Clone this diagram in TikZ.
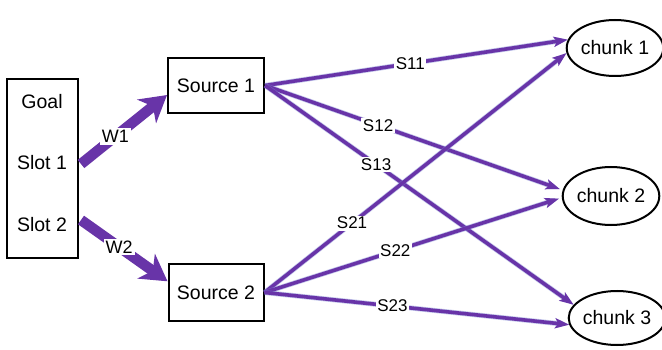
\documentclass[tikz,border=0pt]{standalone}
\usepackage{fontspec}
\setmainfont{Liberation Sans}
\usetikzlibrary{arrows.meta,calc,shapes.geometric}
\definecolor{linkpurple}{RGB}{104,52,168}
\definecolor{linkhalo}{RGB}{120,130,210}
\tikzset{
  boxnode/.style={draw=black,line width=2pt,inner sep=0pt,fill=white},
  chunknode/.style={draw=black,line width=2pt,ellipse,inner sep=0pt,minimum width=92pt,minimum height=56pt,font=\fontsize{19.5}{22}\selectfont},
  plain/.style={inner sep=0pt,font=\fontsize{19.5}{22}\selectfont},
  weightlink/.style={draw=linkpurple,line width=10.5pt,-{Stealth[length=26pt,width=30pt,inset=8pt]}},
  simlink/.style={draw=linkpurple,line width=3.6pt,-{Stealth[length=14pt,width=10pt,inset=3pt]},
    preaction={draw=linkhalo,line width=5pt,-{Stealth[length=14pt,width=10pt,inset=3pt]},opacity=0.45}},
  linklabel/.style={fill=white,inner sep=1.5pt,font=\fontsize{17}{19}\selectfont,text=black},
  weightlabel/.style={fill=white,inner sep=2pt,font=\fontsize{18}{20}\selectfont,text=black}
}
\begin{document}
\begin{tikzpicture}[x=1pt,y=-1pt]
\clip (0,0) rectangle (662,350);
\fill[white] (0,0) rectangle (662,350);

% goal buffer with its two slots
\node[boxnode,minimum width=71pt,minimum height=179pt] (goalbox) at (42.5,168.5) {};
\node[plain] (goal) at (42,102) {Goal};
\node[plain] (slot1) at (42,163) {Slot 1};
\node[plain] (slot2) at (42,225) {Slot 2};

% sources
\node[boxnode,minimum width=96pt,minimum height=55pt,font=\fontsize{19.5}{22}\selectfont] (s1) at (216,85.5) {Source 1};
\node[boxnode,minimum width=95pt,minimum height=57pt,font=\fontsize{19.5}{22}\selectfont] (s2) at (216,292.5) {Source 2};

% chunks
\node[chunknode] (c1) at (615,48) {chunk 1};
\node[chunknode,minimum height=58pt] (c2) at (611,196) {chunk 2};
\node[chunknode,minimum width=94pt,minimum height=54pt] (c3) at (617,318) {chunk 3};

% weighted links from the goal slots
\draw[weightlink] ($(goalbox.east |- slot1)+(2,1)$) -- (s1.191)
  node[weightlabel,pos=0.4] {W1};
\draw[weightlink] ($(goalbox.east |- slot2)+(2,-5)$) -- (s2.167)
  node[weightlabel,pos=0.44] {W2};

% strengths of association from the sources to the chunks
\draw[simlink] (s1.east) -- (c1.170) node[linklabel,pos=0.48] {S11};
\draw[simlink,shorten >=3pt] (s1.east) -- (c2.173) node[linklabel,pos=0.38] {S12};
\draw[simlink] (s1.east) -- (c3.163) node[linklabel,pos=0.36] {S13};
\draw[simlink] (s2.east) -- (c1.186) node[linklabel,pos=0.29] {S21};
\draw[simlink,shorten >=3pt] (s2.east) -- (c2.182) node[linklabel,pos=0.44] {S22};
\draw[simlink] (s2.east) -- (c3.188) node[linklabel,pos=0.42] {S23};
\end{tikzpicture}
\end{document}
